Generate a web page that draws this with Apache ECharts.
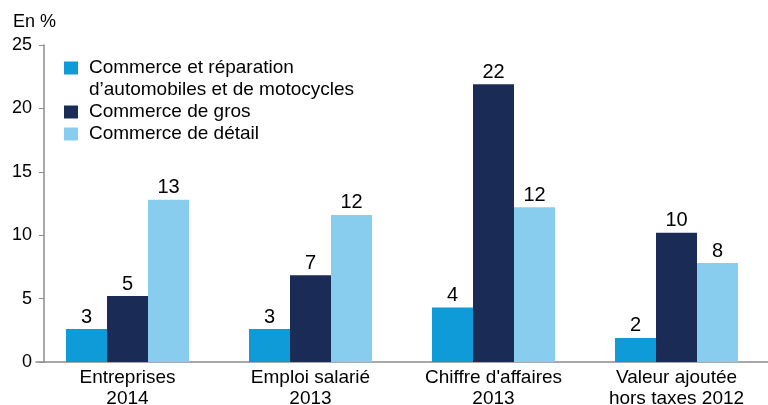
<!DOCTYPE html>
<html>
<head>
<meta charset="utf-8">
<script src="https://cdn.jsdelivr.net/npm/echarts@6/dist/echarts.min.js"></script>
<style>
  html, body { margin: 0; padding: 0; background: #fff; }
  #chart { width: 768px; height: 405px; }
</style>
</head>
<body>
<div id="chart"></div>
<script>
const categories = ['Entreprises\n2014', 'Emploi salarié\n2013', "Chiffre d'affaires\n2013", 'Valeur ajoutée\nhors taxes 2012']
const seriesNames = [
  'Commerce et réparation\nd’automobiles et de motocycles',
  'Commerce de gros',
  'Commerce de détail'
]
const autoValues = [2.6, 2.6, 4.3, 1.9]
const grosValues = [5.2, 6.85, 21.9, 10.2]
const detailValues = [12.8, 11.6, 12.2, 7.8]
const yTicks = { min: 0, max: 25, interval: 5 }

const colors = ['#0f9bd7', '#1a2c56', '#88cdee']
const font = 'Arial, "Liberation Sans", sans-serif'

const chart = echarts.init(document.getElementById('chart'))

const seriesData = [autoValues, grosValues, detailValues].map((values, i) => ({
  name: seriesNames[i],
  type: 'bar',
  data: values,
  barWidth: 41,
  barGap: '0%',
  itemStyle: { color: colors[i] },
  label: {
    show: true,
    position: 'top',
    distance: 2,
    fontFamily: font,
    fontSize: 20,
    color: '#000',
    formatter: (p) => Math.round(p.value)
  },
  animation: false
}))

chart.setOption({
  title: {
    text: 'En %',
    left: 8,
    top: 8,
    textStyle: { fontFamily: font, fontSize: 18, fontWeight: 'normal', color: '#000' }
  },
  grid: {
    left: 36,
    right: 0,
    top: 45,
    bottom: 43,
    containLabel: false,
    outerBoundsMode: 'none'
  },
  legend: {
    orient: 'vertical',
    left: 59,
    top: 30,
    itemGap: 0,
    itemWidth: 14,
    itemHeight: 13,
    icon: 'rect',
    selectedMode: false,
    data: seriesNames,
    // blank first line keeps the square level with the first text line
    formatter: (name) => name.indexOf('\n') >= 0 ? '\n' + name : name,
    textStyle: {
      fontFamily: font,
      fontSize: 19,
      lineHeight: 22,
      color: '#000',
      padding: [0, 0, 0, 6]
    }
  },
  xAxis: {
    type: 'category',
    data: categories,
    axisLine: { lineStyle: { color: '#8c8c8c', width: 1.5 } },
    axisTick: { show: false },
    axisLabel: {
      margin: 5,
      fontFamily: font,
      fontSize: 19,
      lineHeight: 21,
      color: '#000',
      interval: 0
    }
  },
  yAxis: {
    type: 'value',
    min: yTicks.min,
    max: yTicks.max,
    interval: yTicks.interval,
    offset: -8,
    axisLine: { show: true, lineStyle: { color: '#8c8c8c', width: 1.5 } },
    axisTick: { show: true, length: 5, lineStyle: { color: '#8c8c8c' } },
    splitLine: { show: false },
    axisLabel: {
      margin: 12,
      fontFamily: font,
      fontSize: 18,
      color: '#000'
    }
  },
  series: seriesData
})
</script>
</body>
</html>
